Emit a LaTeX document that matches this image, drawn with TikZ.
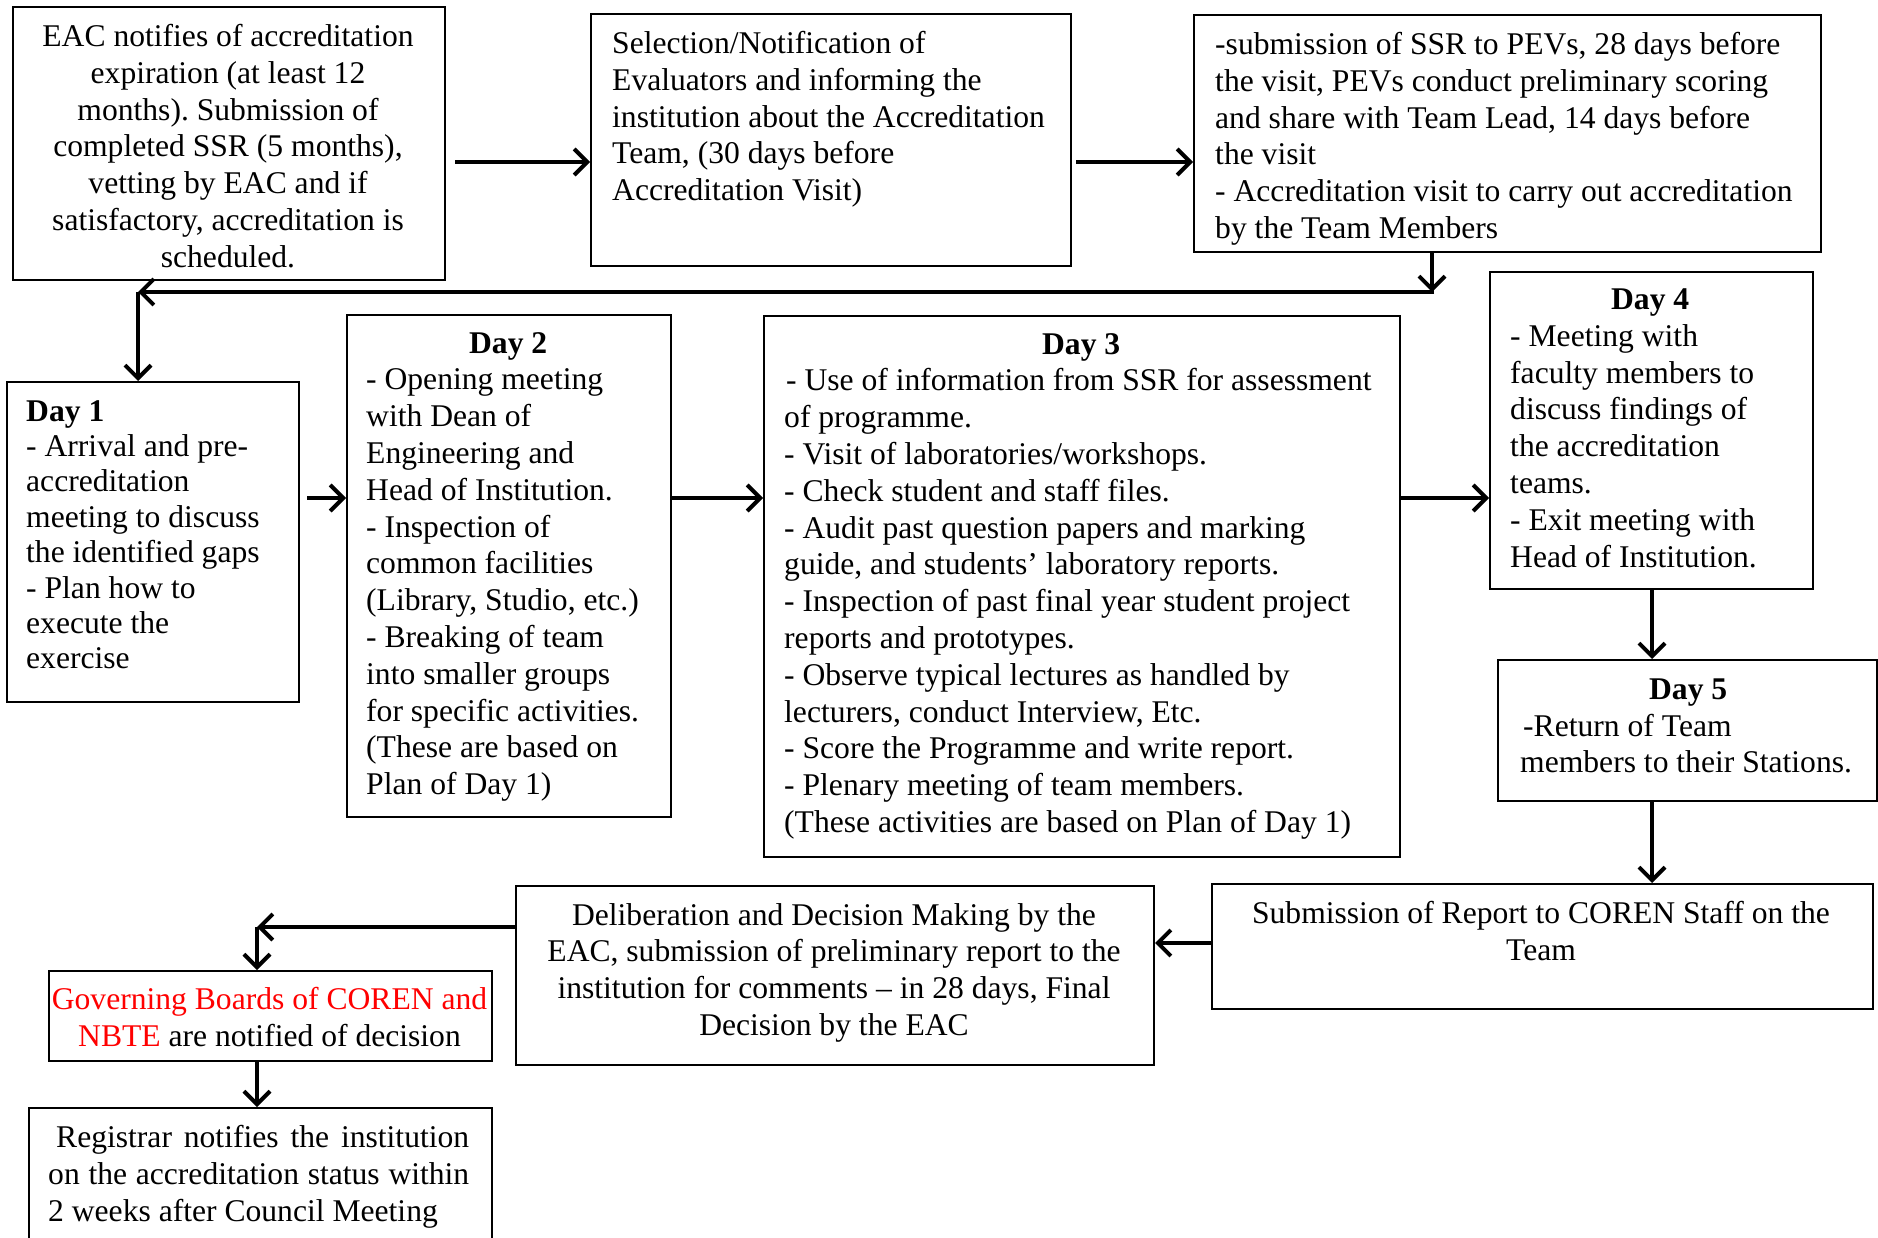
\documentclass[tikz,border=0pt]{standalone}
\usepackage{fontspec}
\setmainfont{Liberation Serif}
\usetikzlibrary{arrows.meta}
\definecolor{reqred}{RGB}{255,0,0}
\frenchspacing
\begin{document}
\begin{tikzpicture}[x=1pt,y=-1pt,
  box/.style={draw=black,line width=2pt,inner sep=0pt,anchor=north west},
  txt/.style={inner sep=0pt,font=\fontsize{31.6}{36.8}\selectfont},
  arr/.style={line width=4pt,-{Straight Barb[length=13pt,width=26pt]}}]
\useasboundingbox (0,0) rectangle (1878,1238);
\clip (0,0) rectangle (1878,1238);

% boxes
\node[box,minimum width=432pt,minimum height=273pt] (a) at (12,6) {};
\node[box,minimum width=480pt,minimum height=252pt] (b) at (590,13) {};
\node[box,minimum width=627pt,minimum height=237pt] (c) at (1193,14) {};
\node[box,minimum width=292pt,minimum height=320pt] (d1) at (6,381) {};
\node[box,minimum width=324pt,minimum height=502pt] (d2) at (346,314) {};
\node[box,minimum width=636pt,minimum height=541pt] (d3) at (763,315) {};
\node[box,minimum width=323pt,minimum height=317pt] (d4) at (1489,271) {};
\node[box,minimum width=379pt,minimum height=141pt] (d5) at (1497,659) {};
\node[box,minimum width=661pt,minimum height=125pt] (sub) at (1211,883) {};
\node[box,minimum width=638pt,minimum height=179pt] (del) at (515,885) {};
\node[box,minimum width=443pt,minimum height=90pt] (gov) at (48,970) {};
\node[box,minimum width=463pt,minimum height=160pt] (reg) at (28,1107) {};

% texts
\node[txt,anchor=north,align=center] (at) at (228,24) {EAC notifies of accreditation\\expiration (at least 12\\months). Submission of\\completed SSR (5 months),\\vetting by EAC and if\\satisfactory, accreditation is\\scheduled.};
\node[txt,anchor=north west,align=left] (bt) at (612,31) {Selection/Notification of\\Evaluators and informing the\\institution about the Accreditation\\Team, (30 days before\\Accreditation Visit)};
\node[txt,anchor=north west,align=left] (ct) at (1215,32) {-submission of SSR to PEVs, 28 days before\\the visit, PEVs conduct preliminary scoring\\and share with Team Lead, 14 days before\\the visit\\- Accreditation visit to carry out accreditation\\by the Team Members};
\node[txt,anchor=north west,align=left,font=\fontsize{31.6}{35.4}\selectfont] (d1t) at (26,400) {\textbf{Day 1}\\- Arrival and pre-\\accreditation\\meeting to discuss\\the identified gaps\\- Plan how to\\execute the\\exercise};
\node[txt,anchor=north west,align=left] (d2t) at (366,332) {\makebox[284pt][c]{\textbf{Day 2}}\\- Opening meeting\\with Dean of\\Engineering and\\Head of Institution.\\- Inspection of\\common facilities\\(Library, Studio, etc.)\\- Breaking of team\\into smaller groups\\for specific activities.\\(These are based on\\Plan of Day 1)};
\node[txt,anchor=north west,align=left] (d3t) at (784,333) {\makebox[594pt][c]{\textbf{Day 3}}\\\hspace*{2pt}- Use of information from SSR for assessment\\of programme.\\- Visit of laboratories/workshops.\\- Check student and staff files.\\- Audit past question papers and marking\\guide, and students’ laboratory reports.\\- Inspection of past final year student project\\reports and prototypes.\\- Observe typical lectures as handled by\\lecturers, conduct Interview, Etc.\\- Score the Programme and write report.\\- Plenary meeting of team members.\\(These activities are based on Plan of Day 1)};
\node[txt,anchor=north west,align=left] (d4t) at (1510,288.5) {\makebox[280pt][c]{\textbf{Day 4}}\\- Meeting with\\faculty members to\\discuss findings of\\the accreditation\\teams.\\- Exit meeting with\\Head of Institution.};
\node[txt,anchor=north west,align=left] (d5t) at (1520,678.5) {\makebox[336pt][c]{\textbf{Day 5}}\\\hspace*{3pt}-Return of Team\\members to their Stations.};
\node[txt,anchor=north,align=center] (subt) at (1541,901) {Submission of Report to COREN Staff on the\\Team};
\node[txt,anchor=north,align=center] (delt) at (834,903) {Deliberation and Decision Making by the\\EAC, submission of preliminary report to the\\institution for comments – in 28 days, Final\\Decision by the EAC};
\node[txt,anchor=north,align=center] (govt) at (269.5,987) {{\color{reqred}Governing Boards of COREN and}\\{\color{reqred}NBTE} are notified of decision};
\node[txt,anchor=north west,text width=421pt,align=justify] (regt) at (48,1125) {\hspace*{8pt}Registrar notifies the institution\linebreak on the accreditation status within\linebreak 2 weeks after Council Meeting};

% connectors
\coordinate (ya) at (0,162);
\draw[arr,shorten <=9pt] (a.east |- ya) -- (b.west |- ya);
\draw[arr,shorten <=4pt] (b.east |- ya) -- (c.west |- ya);
\coordinate (k1) at (1432,292);
\coordinate (k2) at (138,292);
\draw[arr] (k1 |- c.south) -- (k1);
\draw[arr] ([xshift=2pt]k1) -- (k2);
\draw[arr] (k2) -- (k2 |- d1.north);
\coordinate (yb) at (0,498);
\draw[arr,shorten <=7pt] (d1.east |- yb) -- (d2.west |- yb);
\draw[arr] (d2.east |- yb) -- (d3.west |- yb);
\draw[arr] (d3.east |- yb) -- (d4.west |- yb);
\coordinate (xc) at (1652,0);
\draw[arr] (xc |- d4.south) -- (xc |- d5.north);
\draw[arr] (xc |- d5.south) -- (xc |- sub.north);
\coordinate (yd) at (0,943);
\draw[arr] (sub.west |- yd) -- (del.east |- yd);
\coordinate (k3) at (257,927);
\draw[arr] (del.west |- k3) -- (k3);
\draw[arr] (k3) -- (k3 |- gov.north);
\draw[arr] (k3 |- gov.south) -- (k3 |- reg.north);
\end{tikzpicture}
\end{document}
